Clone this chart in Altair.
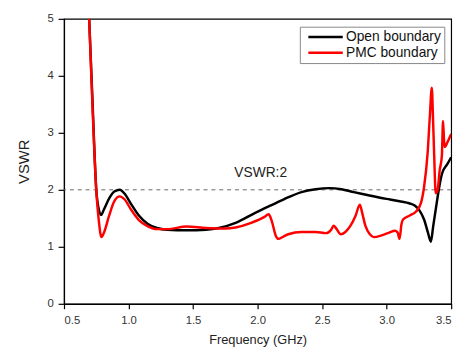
import altair as alt
import pandas as pd

# Open boundary (black)
open_f = [0.695, 0.72, 0.75, 0.77, 0.787, 0.81, 0.85, 0.89, 0.932, 0.97, 1.02, 1.08, 1.15, 1.22, 1.3,
          1.45, 1.6, 1.7, 1.83, 1.985, 2.086, 2.2, 2.34, 2.45, 2.556, 2.65, 2.746, 2.85, 2.95, 3.026,
          3.1, 3.18, 3.22, 3.254, 3.29, 3.32, 3.343, 3.36, 3.39, 3.41, 3.43, 3.47, 3.50]
open_v = [5.0, 3.6, 2.0, 1.65, 1.56, 1.66, 1.85, 1.97, 2.0, 1.93, 1.75, 1.55, 1.40, 1.33, 1.30,
          1.29, 1.30, 1.33, 1.42, 1.60, 1.71, 1.83, 1.96, 2.01, 2.03, 2.01, 1.96, 1.91, 1.86, 1.83,
          1.80, 1.76, 1.72, 1.64, 1.48, 1.25, 1.09, 1.35, 1.80, 2.08, 2.29, 2.45, 2.57]

# PMC boundary (red)
pmc_f = [0.695, 0.72, 0.75, 0.77, 0.79, 0.81, 0.85, 0.89, 0.932, 0.97, 1.02, 1.08, 1.15, 1.22, 1.3,
         1.45, 1.6, 1.75, 1.83, 1.95, 2.05, 2.086, 2.11, 2.14, 2.16, 2.2, 2.238, 2.34, 2.45, 2.53,
         2.57, 2.589, 2.61, 2.645, 2.68, 2.72, 2.76, 2.792, 2.81, 2.835, 2.87, 2.9, 2.96, 3.02,
         3.064, 3.085, 3.10, 3.115, 3.127, 3.18, 3.228, 3.266, 3.29, 3.317, 3.335, 3.35, 3.36,
         3.368, 3.38, 3.395, 3.411, 3.428, 3.437, 3.445, 3.452, 3.47, 3.50]
pmc_v = [5.0, 3.5, 2.0, 1.45, 1.17, 1.25, 1.55, 1.80, 1.885, 1.83, 1.65, 1.47, 1.36, 1.31, 1.31,
         1.355, 1.33, 1.32, 1.34, 1.42, 1.52, 1.57, 1.45, 1.20, 1.14, 1.18, 1.22, 1.26, 1.26, 1.24,
         1.30, 1.37, 1.32, 1.22, 1.26, 1.37, 1.55, 1.74, 1.60, 1.37, 1.22, 1.17, 1.20, 1.25,
         1.28, 1.25, 1.14, 1.40, 1.48, 1.55, 1.62, 1.77, 2.05, 2.63, 3.3, 3.79, 3.2,
         2.63, 1.94, 2.0, 2.34, 2.6, 3.21, 2.85, 2.75, 2.83, 2.98]

series_names = ["Open boundary", "PMC boundary"]
series_colors = ["#000000", "#ff0000"]

x_ticks = [0.5, 0.75, 1.0, 1.25, 1.5, 1.75, 2.0, 2.25, 2.5, 2.75, 3.0, 3.25, 3.5]
y_ticks = [0, 0.5, 1, 1.5, 2, 2.5, 3, 3.5, 4, 4.5, 5]

ref_level = 2
ref_label = "VSWR:2"
ref_label_pos = [1.82, 2.22]

df = pd.concat([
    pd.DataFrame({"f": open_f, "v": open_v, "s": series_names[0], "o": range(len(open_f))}),
    pd.DataFrame({"f": pmc_f, "v": pmc_v, "s": series_names[1], "o": range(len(pmc_f))}),
])

FONT = "Liberation Sans"
xs = alt.Scale(domain=[0.5, 3.5], nice=False, zero=False)
ys = alt.Scale(domain=[0, 5], nice=False)

x_major = "abs(datum.value * 2 - round(datum.value * 2)) < 0.01"
y_major = "abs(datum.value - round(datum.value)) < 0.01"

lines = alt.Chart(df).mark_line(strokeWidth=2.5, interpolate="monotone", clip=True).encode(
    x=alt.X("f:Q", scale=xs, title="Frequency (GHz)",
            axis=alt.Axis(values=x_ticks,
                          labelExpr=f"({x_major}) ? format(datum.value, '.1f') : ''",
                          tickSize={"condition": {"test": x_major, "value": 5}, "value": 3},
                          labelPadding=6, titlePadding=8, titleFontSize=13)),
    y=alt.Y("v:Q", scale=ys, title="VSWR",
            axis=alt.Axis(values=y_ticks,
                          labelExpr=f"({y_major}) ? format(datum.value, 'd') : ''",
                          tickSize={"condition": {"test": y_major, "value": 6}, "value": 3},
                          labelPadding=5, titlePadding=16, titleFontSize=15)),
    color=alt.Color("s:N", scale=alt.Scale(domain=series_names, range=series_colors),
                    legend=alt.Legend(title=None, orient="none", legendX=240, legendY=8,
                                      symbolType="M-0.314,0H5.69", symbolSize=136,
                                      symbolStrokeWidth=2.5, symbolFillColor="transparent",
                                      labelFontSize=14, labelFont=FONT, labelColor="#111",
                                      labelOffset=29, strokeColor="#888", padding=3,
                                      rowPadding=1, fillColor="white")),
    order="o:Q",
)

rule = alt.Chart(pd.DataFrame({"v": [ref_level]})).mark_rule(
    color="#666", strokeDash=[4, 4], strokeWidth=1).encode(y=alt.Y("v:Q", scale=ys))

txt = alt.Chart(pd.DataFrame({"f": [ref_label_pos[0]], "v": [ref_label_pos[1]], "t": [ref_label]})).mark_text(
    align="left", baseline="alphabetic", fontSize=14, font=FONT, color="#222").encode(
    x=alt.X("f:Q", scale=xs), y=alt.Y("v:Q", scale=ys), text="t:N")

chart = alt.layer(rule, lines, txt).properties(
    width=394, height=290,
    autosize=alt.AutoSizeParams(type="none"),
    padding={"left": 57, "top": 8, "right": 10, "bottom": 45},
).configure_view(stroke="#000", strokeWidth=1.2).configure_axis(
    domainColor="#000", domainWidth=1.2, tickColor="#000", tickWidth=1.2,
    labelFont=FONT, labelFontSize=11.5, labelColor="#333",
    titleFont=FONT, titleColor="#222", titleFontWeight="normal", grid=False,
)

chart.save("out.html", embed_options={"renderer": "svg", "actions": False})
